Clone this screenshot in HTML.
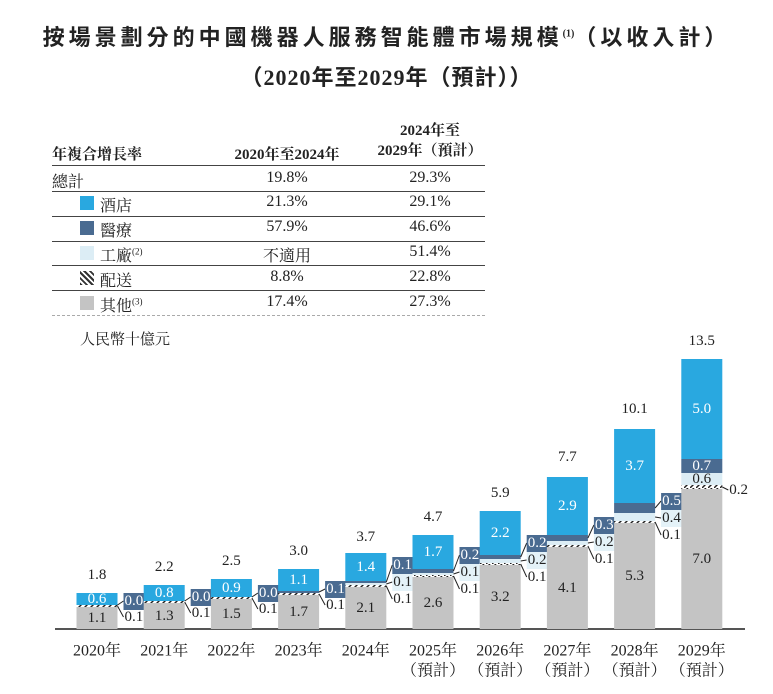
<!DOCTYPE html>
<html><head><meta charset="utf-8">
<style>
body{margin:0;background:#fff;width:773px;height:694px;overflow:hidden;position:relative;font-family:"Liberation Serif","Noto Serif CJK SC",serif;color:#222}
.a{position:absolute;white-space:nowrap}
.t1{left:0;width:773px;top:20px;text-align:center;font-size:22px;font-weight:bold;font-family:"Liberation Serif","Noto Sans CJK TC",sans-serif;letter-spacing:4px}
.t2{left:0;width:773px;top:60px;text-align:center;font-size:22px;font-weight:bold;font-family:"Liberation Serif","Noto Sans CJK TC",sans-serif;letter-spacing:1px}
.hr{position:absolute;left:52px;width:433px;height:0;border-top:1.5px solid #444}
.c{position:absolute;font-size:16px;text-align:center;width:120px}
.lab{position:absolute;left:52px;font-size:16px}
.sw{position:absolute;left:80px;width:14px;height:14px}
</style></head><body>
<div class="a t1">按場景劃分的中國機器人服務智能體市場規模<sup style="font-size:10px;letter-spacing:0">(1)</sup>（以收入計）</div>
<div class="a t2">（2020年至2029年（預計））</div>

<div>
<div class="lab" style="top:143px;font-weight:bold;font-size:15px">年複合增長率</div>
<div class="c" style="left:227px;top:143px;font-weight:bold;font-size:15px">2020年至2024年</div>
<div class="c" style="left:360px;top:121px;width:140px;font-weight:bold;font-size:15px;line-height:20px">2024年至<br>2029年（預計）</div>
<div class="hr" style="top:165px"></div>
<div class="lab" style="top:169px">總計</div>
<div class="c" style="left:227px;top:169px">19.8%</div><div class="c" style="left:370px;top:169px">29.3%</div>
<div class="hr" style="top:191px"></div>
<div class="sw" style="top:196px;background:#29a8e0"></div><div class="lab" style="left:100px;top:193px">酒店</div>
<div class="c" style="left:227px;top:193px">21.3%</div><div class="c" style="left:370px;top:193px">29.1%</div>
<div class="hr" style="top:216px"></div>
<div class="sw" style="top:221px;background:#4a6b91"></div><div class="lab" style="left:100px;top:218px">醫療</div>
<div class="c" style="left:227px;top:218px">57.9%</div><div class="c" style="left:370px;top:218px">46.6%</div>
<div class="hr" style="top:241px"></div>
<div class="sw" style="top:246px;background:#dcedf5"></div><div class="lab" style="left:100px;top:243px">工廠<sup style="font-size:9px">(2)</sup></div>
<div class="c" style="left:227px;top:243px">不適用</div><div class="c" style="left:370px;top:243px">51.4%</div>
<div class="hr" style="top:265px"></div>
<div class="sw" style="top:271px;background:repeating-linear-gradient(45deg,#333 0 2px,#fff 2px 4px)"></div><div class="lab" style="left:100px;top:268px">配送</div>
<div class="c" style="left:227px;top:268px">8.8%</div><div class="c" style="left:370px;top:268px">22.8%</div>
<div class="hr" style="top:290px"></div>
<div class="sw" style="top:296px;background:#c4c4c4"></div><div class="lab" style="left:100px;top:293px">其他<sup style="font-size:9px">(3)</sup></div>
<div class="c" style="left:227px;top:293px">17.4%</div><div class="c" style="left:370px;top:293px">27.3%</div>
<div class="hr" style="top:315px;border-top:1px dashed #aaa"></div>
</div>
<div class="a" style="left:80px;top:328px;font-size:15px">人民幣十億元</div>

<svg id="chart" width="773" height="694" style="position:absolute;left:0;top:0">
<defs><pattern id="dl" width="6" height="4" patternUnits="userSpaceOnUse"><rect width="6" height="4" fill="#fff"/><path d="M0,4 L4,0" stroke="#222" stroke-width="1.5"/></pattern></defs>
</svg>
<script>
const years=["2020年","2021年","2022年","2023年","2024年","2025年","2026年","2027年","2028年","2029年"];
const forecast=[false,false,false,false,false,true,true,true,true,true];
const other=[1.1,1.3,1.5,1.7,2.1,2.6,3.2,4.1,5.3,7.0];
const delivery=[0.1,0.1,0.1,0.1,0.1,0.1,0.1,0.1,0.1,0.2];
const factory=[0,0,0,0,0.1,0.1,0.2,0.2,0.4,0.6];
const medical=[0.0,0.0,0.0,0.1,0.1,0.2,0.2,0.3,0.5,0.7];
const hotel=[0.6,0.8,0.9,1.1,1.4,1.7,2.2,2.9,3.7,5.0];
const totals=[1.8,2.2,2.5,3.0,3.7,4.7,5.9,7.7,10.1,13.5];

const svg=document.getElementById('chart');
const NS='http://www.w3.org/2000/svg';
const base=629, scale=20, x0=97, step=67.2, bw=41;
const xs=i=>x0+i*step;
const ys=v=>base-v*scale;
const fmt=v=>v.toFixed(1);
function mk(tag,attrs){const e=document.createElementNS(NS,tag);for(const k in attrs)e.setAttribute(k,attrs[k]);svg.appendChild(e);return e;}
function txt(x,y,s,fill,anchor,size){const t=mk('text',{x:x,y:y,fill:fill||'#222','text-anchor':anchor||'middle','font-size':size||15,'font-family':'"Liberation Serif","Noto Serif CJK SC",serif','dominant-baseline':'central'});t.textContent=s;return t;}

const axis=mk('line',{x1:55,x2:745,y1:base,y2:base,stroke:'#555','stroke-width':2});



years.forEach((yr,i)=>{
  const cx=xs(i), L=cx-bw/2, R=cx+bw/2;
  const segs=[['other',other[i],'#c4c4c4'],['delivery',delivery[i],'url(#dl)'],['factory',factory[i],'#dcedf5'],['medical',medical[i],'#4a6b91'],['hotel',hotel[i],'#29a8e0']];
  let cum=0; const mids={};
  segs.forEach(([n,v,c])=>{
    const y1=ys(cum+v), y2=ys(cum);
    if(v>0){const r=mk('rect',{x:L,y:y1,width:bw,height:y2-y1,fill:c});
      
      }
    mids[n]=[(y1+y2)/2,y2-y1];cum+=v;
  });
  txt(cx,mids.other[0],fmt(other[i]),'#222');
  txt(cx,mids.hotel[0],fmt(hotel[i]),'#fff');
  txt(cx,ys(totals[i])-18,fmt(totals[i]),'#222');
  const y0=ys(other[i]);
  const hasF=factory[i]>0;
  const out=[];
  if(medical[i]*scale>=12) txt(cx,mids.medical[0],fmt(medical[i]),'#fff');
  else out.push(['medical',hasF?y0-22:y0-6]);
  if(hasF){ if(factory[i]*scale>=12) txt(cx,mids.factory[0],fmt(factory[i]),'#222'); else out.push(['factory',y0-5]); }
  out.push(['delivery',hasF&&factory[i]*scale<12?y0+12:(medical[i]*scale>=12?y0+1:y0+10)]);
  out.forEach(([n,ly])=>{
    const v=n==='medical'?medical[i]:n==='factory'?factory[i]:delivery[i];
    const lx=R+6;
    mk('polyline',{points:`${R},${mids[n][0]} ${lx},${ly}`,fill:'none',stroke:'#222','stroke-width':1});
    if(n==='medical'){const b=mk('rect',{x:lx,y:ly-8,width:25,height:17,fill:'#4a6b91'});
      
      }
    if(n==='factory'){mk('rect',{x:lx,y:ly-8,width:25,height:17,fill:'#e4f2f8'});}
    txt(lx+1,ly,fmt(v),n==='medical'?'#fff':'#222','start');
  });
  const xl=txt(cx,651,yr,'#222','middle',16);
  
  
  if(forecast[i]) txt(cx,671,'（預計）','#222','middle',16);
});
</script>
</body></html>
